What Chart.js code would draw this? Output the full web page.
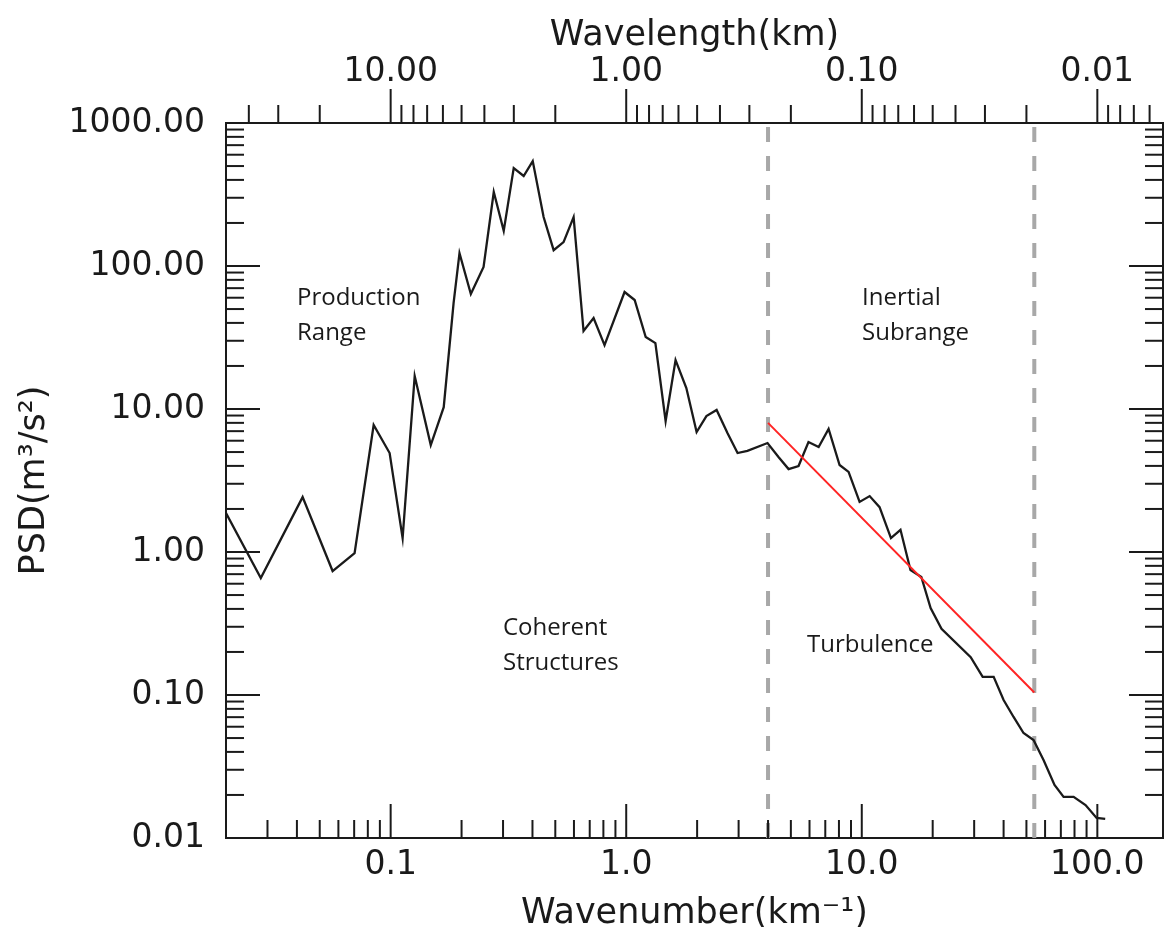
<!DOCTYPE html>
<html>
<head>
<meta charset="utf-8">
<title>PSD spectrum</title>
<script src="https://cdn.jsdelivr.net/npm/chart.js@4.4.1/dist/chart.umd.min.js"></script>
<style>
  html, body { margin: 0; padding: 0; background: #fff; }
  #wrap { width: 1165px; height: 927px; }
</style>
</head>
<body>
<div id="wrap"><canvas id="psdChart"></canvas></div>
<script>
// --- Spectrum ---
const wavenumber = [0.02, 0.0281, 0.0423, 0.0567, 0.0703, 0.0847, 0.099, 0.1124, 0.1265, 0.148,
    0.168, 0.185, 0.196, 0.219, 0.248, 0.274, 0.302, 0.333, 0.367, 0.401,
    0.446, 0.492, 0.542, 0.598, 0.659, 0.727, 0.809, 0.984, 1.086, 1.21,
    1.33, 1.47, 1.62, 1.80, 1.99, 2.19, 2.42, 2.69, 2.97, 3.27,
    3.98, 4.43, 4.89, 5.39, 5.94, 6.56, 7.23, 8.05, 8.79, 9.79,
    10.8, 11.9, 13.3, 14.6, 16.1, 17.9, 19.6, 21.8, 29.0, 32.6,
    36.3, 40.0, 44.1, 48.6, 53.6, 59.1, 65.8, 71.9, 79.3, 89.1,
    99.3, 108];
const psd = [1.87, 0.658, 2.42, 0.736, 0.98, 7.73, 4.92, 1.25, 17.0, 5.6,
    10.3, 55, 123, 63.7, 98.4, 329, 176, 484, 426, 542,
    220, 129, 147, 220, 35.1, 43.3, 28.0, 65.8, 57.8, 31.9,
    28.9, 8.24, 22.0, 14.0, 6.9, 8.93, 9.84, 6.79, 4.92, 5.09,
    5.78, 4.62, 3.80, 3.99, 5.88, 5.42, 7.25, 4.06, 3.63, 2.24,
    2.46, 2.06, 1.25, 1.43, 0.748, 0.669, 0.406, 0.290, 0.184, 0.134,
    0.134, 0.0923, 0.0702, 0.0542, 0.0484, 0.0351, 0.0235, 0.0194, 0.0194, 0.0170,
    0.0138, 0.0136];

// -5/3 fit across the inertial subrange (end points)
const fitWavenumber = [4, 54];
const fitPsd = [8.0, 0.104];

// range boundaries (dashed lines)
const boundaries = [4, 54];

// --- Axis ticks ---
const wavenumberTicks = [0.1, 1, 10, 100];
const wavenumberLabels = ['0.1', '1.0', '10.0', '100.0'];
const wavelengthTicks = [10, 1, 0.1, 0.01];
const wavelengthLabels = ['10.00', '1.00', '0.10', '0.01'];
const psdTicks = [0.01, 0.1, 1, 10, 100, 1000];
const psdLabels = ['0.01', '0.10', '1.00', '10.00', '100.00', '1000.00'];

const regionText = [['Production', 'Range'], ['Inertial', 'Subrange'], ['Coherent', 'Structures'], ['Turbulence']];

// --- Look ---
const X_MIN = 0.02, X_MAX = 190;
const Y_MIN = 0.01, Y_MAX = 1000;
const INK = '#1a1a1a';
const MAJOR = 34, MINOR = 18;
const tickFont = { family: 'DejaVu Sans', size: 33, lineHeight: 1 };
const titleFont = { family: 'DejaVu Sans', size: 35, lineHeight: 1 };

// 2..9 x 10^d between lo and hi
function minorTicks(lo, hi) {
    const out = [];
    for (let d = -3; d <= 3; d++) {
        for (let m = 2; m <= 9; m++) {
            const v = m * Math.pow(10, d);
            if (v > lo * 1.0001 && v < hi * 0.9999) out.push(v);
        }
    }
    return out;
}

// inward ticks on bottom/left/right, outward on the wavelength axis, plus region labels
const framePlugin = {
    id: 'frame',
    afterDatasetsDraw(chart) {
        const { ctx, chartArea: a, scales } = chart;
        const sx = scales.x, sy = scales.y;
        ctx.save();
        ctx.strokeStyle = INK;
        ctx.lineWidth = 2;
        const seg = (x1, y1, x2, y2) => {
            ctx.beginPath(); ctx.moveTo(x1, y1); ctx.lineTo(x2, y2); ctx.stroke();
        };

        // bottom (wavenumber)
        wavenumberTicks.forEach(v => { const p = sx.getPixelForValue(v); seg(p, a.bottom, p, a.bottom - MAJOR); });
        minorTicks(X_MIN, X_MAX).forEach(v => { const p = sx.getPixelForValue(v); seg(p, a.bottom, p, a.bottom - MINOR); });

        // top (wavelength = 1 / wavenumber)
        wavelengthTicks.forEach(w => { const p = sx.getPixelForValue(1 / w); seg(p, a.top, p, a.top - MAJOR); });
        minorTicks(1 / X_MAX, 1 / X_MIN).forEach(w => { const p = sx.getPixelForValue(1 / w); seg(p, a.top, p, a.top - MINOR); });

        // left and right
        psdTicks.forEach(v => {
            const p = sy.getPixelForValue(v);
            seg(a.left, p, a.left + MAJOR, p);
            seg(a.right, p, a.right - MAJOR, p);
        });
        minorTicks(Y_MIN, Y_MAX).forEach(v => {
            const p = sy.getPixelForValue(v);
            seg(a.left, p, a.left + MINOR, p);
            seg(a.right, p, a.right - MINOR, p);
        });

        // region labels
        const spots = [[297, 298], [862, 298], [503, 628], [807, 645]];
        ctx.fillStyle = INK;
        ctx.font = '24px "Open Sans"';
        ctx.textAlign = 'left';
        ctx.textBaseline = 'middle';
        regionText.forEach((lines, i) => {
            lines.forEach((t, j) => ctx.fillText(t, spots[i][0], spots[i][1] + j * 35));
        });
        ctx.restore();
    }
};

const spectrum = wavenumber.map((k, i) => ({ x: k, y: psd[i] }));
const fit = fitWavenumber.map((k, i) => ({ x: k, y: fitPsd[i] }));

const lineSet = (data, color, width, order, dash) => ({
    data, borderColor: color, borderWidth: width, borderDash: dash || [],
    showLine: true, pointRadius: 0, fill: false, order
});

const ctx = document.getElementById('psdChart').getContext('2d');
new Chart(ctx, {
    type: 'scatter',
    data: {
        datasets: [
            lineSet(spectrum, INK, 2.3, 1),
            lineSet(fit, '#ff2424', 2, 0),
            ...boundaries.map(b => lineSet([{ x: b, y: Y_MIN }, { x: b, y: Y_MAX }], '#a8a8a8', 4, 2, [15, 14]))
        ]
    },
    options: {
        responsive: true,
        maintainAspectRatio: false,
        animation: false,
        devicePixelRatio: 1,
        layout: { padding: 0 },
        plugins: { legend: { display: false }, tooltip: { enabled: false } },
        scales: {
            x: {
                type: 'logarithmic', position: 'bottom', min: X_MIN, max: X_MAX,
                grid: { display: false },
                border: { display: true, color: INK, width: 2 },
                afterBuildTicks: s => { s.ticks = wavenumberTicks.map(v => ({ value: v })); },
                ticks: { font: tickFont, color: INK, padding: 3, autoSkip: false, maxRotation: 0,
                    callback: (v, i) => wavenumberLabels[i] },
                title: { display: true, text: 'Wavenumber(km⁻¹)', font: titleFont, color: INK, padding: { top: 0, bottom: -4 } },
                afterFit: s => { s.height = 89; }
            },
            xTop: {
                type: 'logarithmic', position: 'top', min: X_MIN, max: X_MAX,
                grid: { display: false },
                border: { display: true, color: INK, width: 2 },
                afterBuildTicks: s => { s.ticks = wavelengthTicks.map(w => ({ value: 1 / w })); },
                ticks: { font: tickFont, color: INK, padding: 26, autoSkip: false, maxRotation: 0,
                    callback: (v, i) => wavelengthLabels[i] },
                title: { display: true, text: 'Wavelength(km)', font: titleFont, color: INK, padding: { top: 18, bottom: 0 } },
                afterFit: s => { s.height = 123; }
            },
            y: {
                type: 'logarithmic', position: 'left', min: Y_MIN, max: Y_MAX,
                grid: { display: false },
                border: { display: true, color: INK, width: 2 },
                afterBuildTicks: s => { s.ticks = psdTicks.map(v => ({ value: v })); },
                ticks: { font: tickFont, color: INK, padding: 13, autoSkip: false,
                    callback: (v, i) => psdLabels[i] },
                title: { display: true, text: 'PSD(m³/s²)', font: titleFont, color: INK, padding: { top: 17, bottom: 0 } },
                afterFit: s => { s.width = 226; }
            },
            yRight: {
                type: 'logarithmic', position: 'right', min: Y_MIN, max: Y_MAX,
                grid: { display: false },
                border: { display: true, color: INK, width: 2 },
                ticks: { display: false },
                afterFit: s => { s.width = 2; }
            }
        }
    },
    plugins: [framePlugin]
});
</script>
</body>
</html>
